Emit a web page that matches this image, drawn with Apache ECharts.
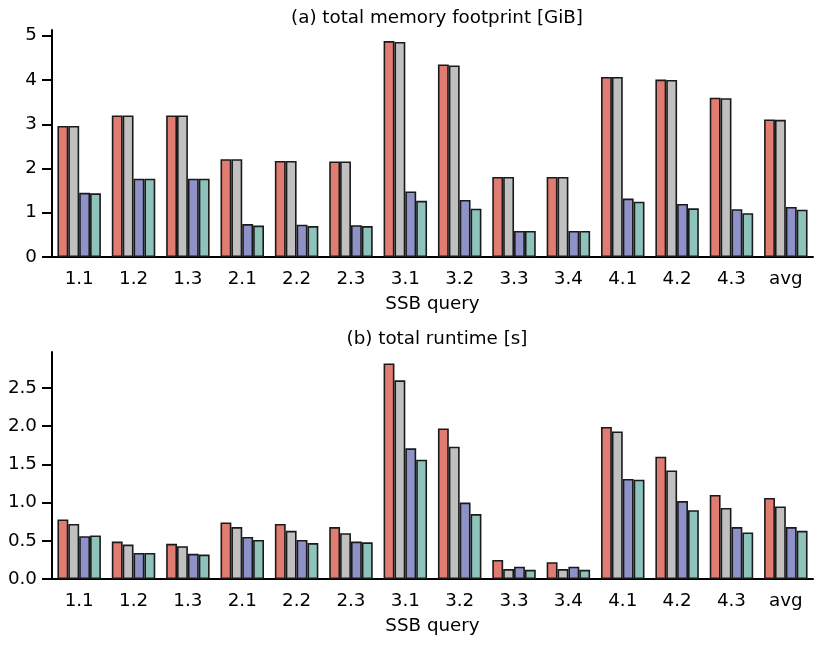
<!DOCTYPE html>
<html>
<head>
<meta charset="utf-8">
<script src="https://cdn.jsdelivr.net/npm/echarts@6/dist/echarts.min.js"></script>
<style>
html,body{margin:0;padding:0;background:#fff;}
#chart{width:830px;height:645px;}
</style>
</head>
<body>
<div id="chart"></div>
<script>
const categories = ['1.1','1.2','1.3','2.1','2.2','2.3','3.1','3.2','3.3','3.4','4.1','4.2','4.3','avg'];

// (a) total memory footprint [GiB]
const memRed   = [2.96, 3.20, 3.20, 2.21, 2.17, 2.16, 4.88, 4.35, 1.81, 1.81, 4.07, 4.01, 3.60, 3.11];
const memGray  = [2.96, 3.20, 3.20, 2.21, 2.17, 2.16, 4.86, 4.33, 1.81, 1.81, 4.07, 4.00, 3.59, 3.10];
const memBlue  = [1.45, 1.77, 1.77, 0.745, 0.73, 0.72, 1.48, 1.29, 0.59, 0.59, 1.32, 1.20, 1.08, 1.13];
const memTeal  = [1.44, 1.77, 1.77, 0.71, 0.70, 0.70, 1.27, 1.09, 0.59, 0.59, 1.25, 1.10, 0.99, 1.07];

// (b) total runtime [s]
const rtRed    = [0.78, 0.49, 0.46, 0.74, 0.72, 0.68, 2.82, 1.97, 0.25, 0.22, 1.99, 1.60, 1.10, 1.06];
const rtGray   = [0.72, 0.45, 0.43, 0.68, 0.63, 0.60, 2.60, 1.73, 0.13, 0.13, 1.93, 1.42, 0.93, 0.95];
const rtBlue   = [0.56, 0.34, 0.33, 0.55, 0.51, 0.49, 1.71, 1.00, 0.16, 0.16, 1.31, 1.02, 0.68, 0.68];
const rtTeal   = [0.57, 0.34, 0.32, 0.51, 0.47, 0.48, 1.56, 0.85, 0.12, 0.12, 1.30, 0.90, 0.61, 0.63];

const memTicks = [0, 1, 2, 3, 4, 5];
const rtTicks = [0, 0.5, 1.0, 1.5, 2.0, 2.5];

const colors = ['#e17c72', '#c0c0c0', '#8f92c8', '#8ec3bc'];
const FONT = 'DejaVu Sans';
const FS = 18.3;

function xAxis(gridIndex) {
  return {
    type: 'category', gridIndex, data: categories,
    name: 'SSB query', nameLocation: 'middle', nameGap: 38,
    nameTextStyle: { color: '#000', fontSize: FS, fontFamily: FONT },
    axisLine: { lineStyle: { color: '#000', width: 2 } },
    axisTick: { alignWithLabel: true, length: 9, lineStyle: { color: '#000', width: 2 } },
    axisLabel: { color: '#000', fontSize: FS, fontFamily: FONT, margin: 13 },
    splitLine: { show: false }
  };
}
function yAxis(gridIndex, max, ticks, fmt) {
  return {
    type: 'value', gridIndex, min: 0, max,
    axisLine: { show: true, lineStyle: { color: '#000', width: 2 } },
    axisTick: { show: true, length: 10, customValues: ticks, lineStyle: { color: '#000', width: 2 } },
    axisLabel: { color: '#000', fontSize: FS, fontFamily: FONT, margin: 15, customValues: ticks, formatter: fmt },
    splitLine: { show: false }
  };
}
function bars(data, i, idx) {
  return {
    type: 'bar', data, xAxisIndex: idx, yAxisIndex: idx,
    barGap: '0%', barCategoryGap: '20%',
    itemStyle: { color: colors[i], borderColor: '#1a1a1a', borderWidth: 1.6 },
    silent: true, animation: false
  };
}

const chart = echarts.init(document.getElementById('chart'));
chart.setOption({
  animation: false,
  title: [
    { text: '(a) total memory footprint [GiB]', left: 432, top: 4, textAlign: 'center',
      textStyle: { fontSize: FS, fontWeight: 'normal', color: '#000', fontFamily: FONT } },
    { text: '(b) total runtime [s]', left: 432, top: 325, textAlign: 'center',
      textStyle: { fontSize: FS, fontWeight: 'normal', color: '#000', fontFamily: FONT } }
  ],
  grid: [
    { left: 52, right: 17, top: 30, height: 227 },
    { left: 52, right: 17, top: 352, height: 227 }
  ],
  xAxis: [xAxis(0), xAxis(1)],
  yAxis: [
    yAxis(0, 5.13, memTicks, v => String(v)),
    yAxis(1, 2.97, rtTicks, v => v.toFixed(1))
  ],
  series: [
    bars(memRed, 0, 0), bars(memGray, 1, 0), bars(memBlue, 2, 0), bars(memTeal, 3, 0),
    bars(rtRed, 0, 1), bars(rtGray, 1, 1), bars(rtBlue, 2, 1), bars(rtTeal, 3, 1)
  ]
});
</script>
</body>
</html>
